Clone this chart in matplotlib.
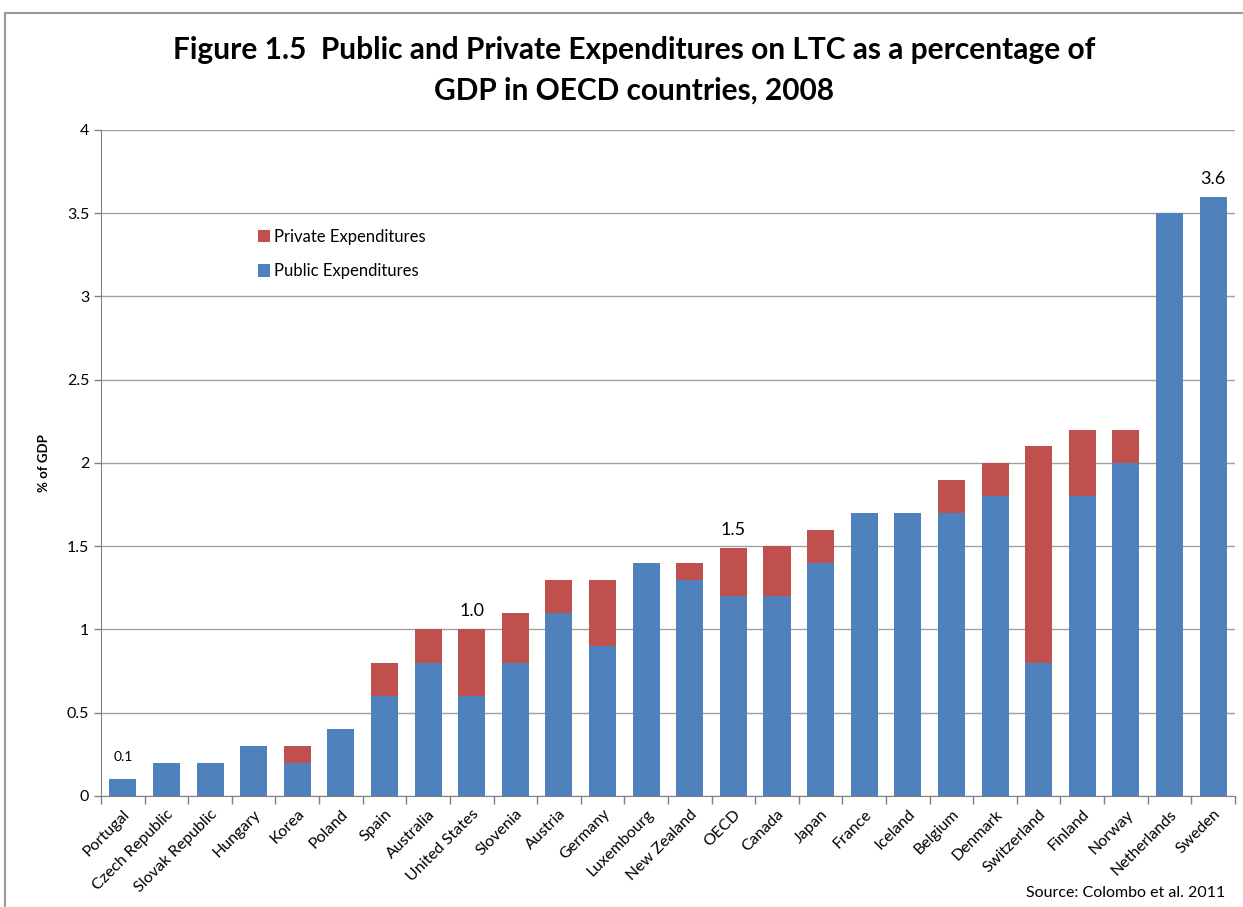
import matplotlib
matplotlib.use("Agg")
import matplotlib.pyplot as plt
from matplotlib.lines import Line2D
import numpy as np

plt.rcParams['font.family'] = ['Lato', 'DejaVu Sans']

countries = ["Portugal", "Czech Republic", "Slovak Republic", "Hungary", "Korea", "Poland",
             "Spain", "Australia", "United States", "Slovenia", "Austria", "Germany",
             "Luxembourg", "New Zealand", "OECD", "Canada", "Japan", "France", "Iceland",
             "Belgium", "Denmark", "Switzerland", "Finland", "Norway", "Netherlands", "Sweden"]
public = [0.1, 0.2, 0.2, 0.3, 0.2, 0.4, 0.6, 0.8, 0.6, 0.8, 1.1, 0.9, 1.4, 1.3, 1.2, 1.2,
          1.4, 1.7, 1.7, 1.7, 1.8, 0.8, 1.8, 2.0, 3.5, 3.6]
private = [0.0, 0.0, 0.0, 0.0, 0.1, 0.0, 0.2, 0.2, 0.4, 0.3, 0.2, 0.4, 0.0, 0.1, 0.29, 0.3,
           0.2, 0.0, 0.0, 0.2, 0.2, 1.3, 0.4, 0.2, 0.0, 0.0]
labels = {"Portugal": "0.1", "United States": "1.0", "OECD": "1.5", "Sweden": "3.6"}
yticks = [0, 0.5, 1, 1.5, 2, 2.5, 3, 3.5, 4]
ytick_labels = ["0", "0.5", "1", "1.5", "2", "2.5", "3", "3.5", "4"]

BLUE = "#4F81BD"
RED = "#C0504D"

fig = plt.figure(figsize=(12.43, 9.07), dpi=100)
ax = fig.add_axes([0.0813, 0.1224, 0.9122, 0.7343])

x = np.arange(len(countries))
pub = np.array(public)
priv = np.array(private)
ax.bar(x, pub, width=0.62, color=BLUE, label="Public Expenditures", zorder=3)
ax.bar(x, priv, width=0.62, bottom=pub, color=RED, label="Private Expenditures", zorder=3)

for i, c in enumerate(countries):
    if c in labels:
        if c == "Portugal":
            ax.text(i, pub[i] + priv[i] + 0.1, labels[c], ha="center", va="bottom",
                    fontsize=10, color="black")
        else:
            ax.text(i, pub[i] + priv[i] + 0.06, labels[c], ha="center", va="bottom",
                    fontsize=13, color="black")

ax.set_xlim(-0.5, len(countries) - 0.5)
ax.set_ylim(0, 4)
ax.set_yticks(yticks)
ax.set_yticklabels(ytick_labels, fontsize=11.5)
ax.yaxis.grid(True, color="#A0A0A0", linewidth=1.0, zorder=0)
ax.set_axisbelow(True)

ax.set_xticks(x)
ax.set_xticklabels(countries, rotation=45, ha="right", rotation_mode="anchor", fontsize=11.5)
ax.tick_params(axis="x", which="major", length=0, pad=8)
ax.set_xticks(np.arange(-0.5, len(countries), 1.0), minor=True)
ax.tick_params(axis="x", which="minor", length=6, color="#808080", width=1)
ax.tick_params(axis="y", length=5, color="#808080", width=1)

for s in ["top", "right"]:
    ax.spines[s].set_visible(False)
ax.spines["left"].set_color("#808080")
ax.spines["bottom"].set_color("#808080")

ax.set_ylabel("% of GDP", fontsize=9.5, fontweight="bold", labelpad=12)

h, l = ax.get_legend_handles_labels()
ax.legend([h[1], h[0]], [l[1], l[0]], loc="upper left", bbox_to_anchor=(0.125, 0.874),
          frameon=False, fontsize=12, handlelength=0.75, handleheight=0.75,
          handletextpad=0.25, labelspacing=1.1)

fig.text(0.51, 0.945, "Figure 1.5  Public and Private Expenditures on LTC as a percentage of",
         ha="center", va="center", fontsize=21.5, fontweight="bold")
fig.text(0.51, 0.9, "GDP in OECD countries, 2008",
         ha="center", va="center", fontsize=21.5, fontweight="bold")
fig.text(0.986, 0.015, "Source: Colombo et al. 2011", ha="right", va="center", fontsize=11.5)

fig.add_artist(Line2D([0.004, 1.0], [0.9857, 0.9857], transform=fig.transFigure,
                      color="#9A9A9A", linewidth=1.5))
fig.add_artist(Line2D([0.004, 0.004], [0.0, 0.9857], transform=fig.transFigure,
                      color="#9A9A9A", linewidth=1.5))

fig.savefig("out.png", dpi=100)
